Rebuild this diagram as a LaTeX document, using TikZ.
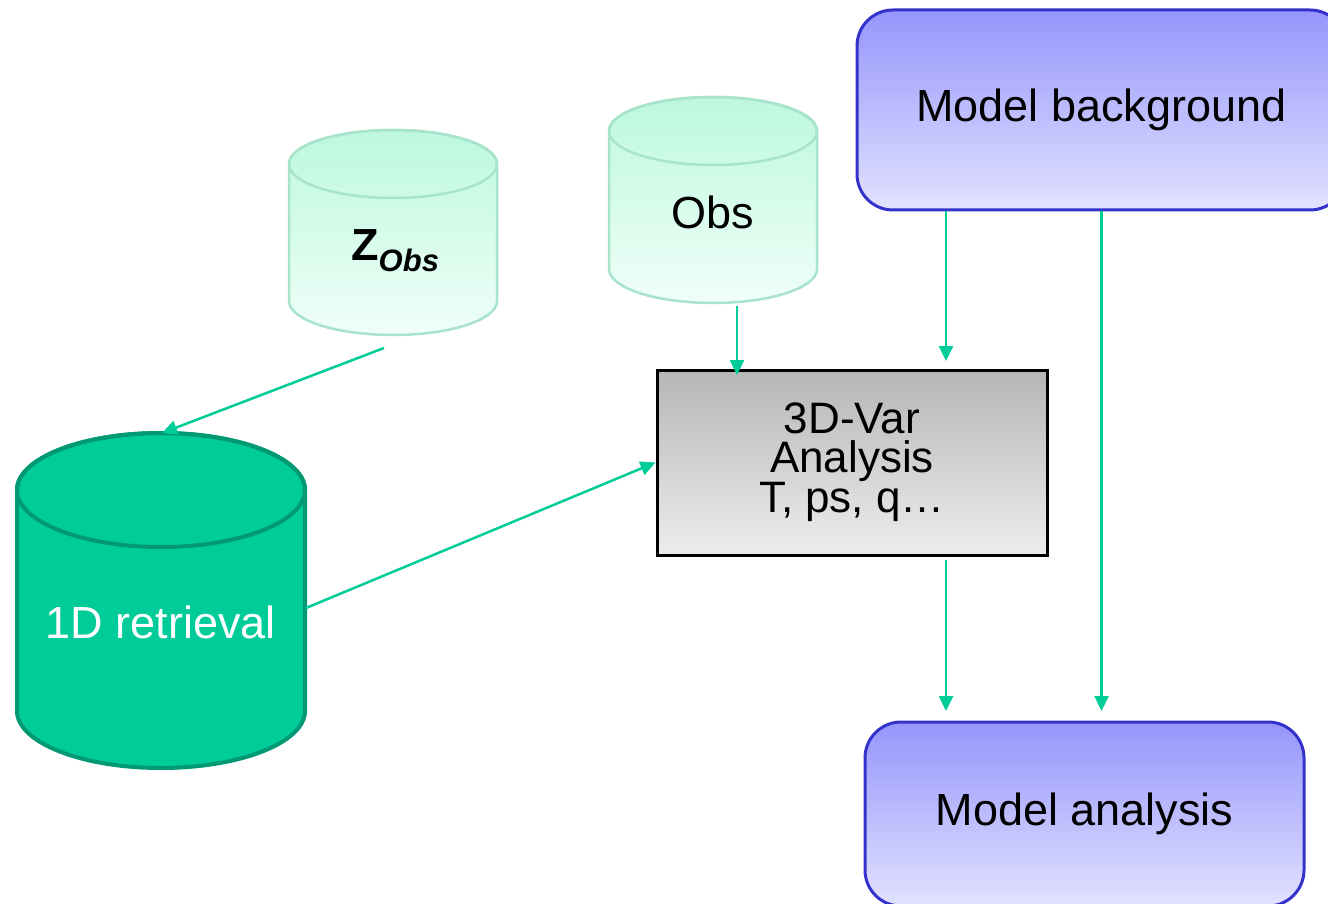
\documentclass[tikz,border=0pt]{standalone}
\usepackage{fontspec}
\setmainfont{Liberation Sans}
\usetikzlibrary{arrows.meta}

\definecolor{mint}{HTML}{00CC99}
\definecolor{mintdark}{HTML}{009973}
\definecolor{mintedge}{HTML}{A8E4CC}
\definecolor{minttop}{HTML}{BCF8DE}
\definecolor{mintbot}{HTML}{F0FFF8}
\definecolor{bluetop}{HTML}{9595FC}
\definecolor{bluebot}{HTML}{E2E2FF}
\definecolor{blueedge}{HTML}{3333CC}
\definecolor{greytop}{HTML}{B6B6B6}
\definecolor{greybot}{HTML}{EDEDED}

% drum: centre x, radius x, top-ellipse y, bottom-ellipse y, radius y, edge style, fill style
\newcommand\drum[7]{%
  \path[#7,#6] ({#1-#2},#3) -- ({#1-#2},#4)
    arc[start angle=180,end angle=0,x radius=#2,y radius=#5]
    -- ({#1+#2},#3)
    arc[start angle=0,end angle=-180,x radius=#2,y radius=#5] -- cycle;
  \draw[#6] (#1,#3) ellipse[x radius=#2,y radius=#5];
}

\begin{document}
\begin{tikzpicture}[x=1pt,y=-1pt,
  flow/.style={draw=mint, line width=2.5pt, -{Triangle[length=15pt,width=14pt]}},
  lightedge/.style={draw=mintedge, line width=2.5pt},
  lightfill/.style={top color=minttop, bottom color=mintbot},
  darkedge/.style={draw=mintdark, line width=4pt},
  darkfill/.style={fill=mint},
  modelbox/.style={draw=blueedge, line width=3pt, rounded corners=36pt,
    top color=bluetop, bottom color=bluebot, inner sep=0pt,
    font=\fontsize{45}{54}\selectfont},
  varbox/.style={draw=black, line width=3pt, top color=greytop, bottom color=greybot,
    inner sep=0pt, align=center, font=\fontsize{44}{38.5}\selectfont},
  label/.style={inner sep=0pt, font=\fontsize{45}{50}\selectfont}
]
\useasboundingbox (0,0) rectangle (1328,904);
\clip (0,0) rectangle (1328,904);
\fill[white] (0,0) rectangle (1328,904);

% data stores
\drum{393}{104}{164}{301}{34}{lightedge}{lightfill}
\drum{713}{104}{131}{269}{34}{lightedge}{lightfill}
\drum{161}{144}{490}{711}{57}{darkedge}{darkfill}

\node[label, anchor=base west] (zobs) at (351,261)
  {\bfseries Z\raisebox{-11pt}{\itshape\fontsize{31}{31}\selectfont Obs}};
\node[label] (obs) at (713,212) {Obs};
\node[label, text=white] (ret) at (161,622) {1D retrieval};

% processing boxes
\node[modelbox, minimum width=489pt, minimum height=200pt] (mb) at (1101.5,110) {Model background};
\node[modelbox, minimum width=439pt, minimum height=184pt] (ma) at (1084.5,814) {Model analysis};
\node[varbox, minimum width=390pt, minimum height=185pt] (var) at (852,462.5)
  {3D-Var\\Analysis\\T, ps, q\dots};

% connector ends
\coordinate (zobs-foot) at (384,348);
\coordinate (ret-top) at (162,433);
\coordinate (ret-side) at (306,608);
\coordinate (obs-foot) at (737,306);
\coordinate (var-in-obs) at (737,375);
\coordinate (var-in-mb) at (946,361);
\coordinate (var-out) at (946,560);
\coordinate (ma-in-var) at (946,711);
\coordinate (ma-in-mb) at (1101.5,711);

% flows
\draw[flow] (zobs-foot) -- (ret-top);
\draw[flow] (ret-side) -- (var.west);
\draw[flow] (obs-foot) -- (var-in-obs);
\draw[flow] (mb.south -| var-in-mb) -- (var-in-mb);
\draw[flow] (var-out) -- (ma-in-var);
\draw[flow] (mb.south) -- (ma-in-mb);
\end{tikzpicture}
\end{document}
